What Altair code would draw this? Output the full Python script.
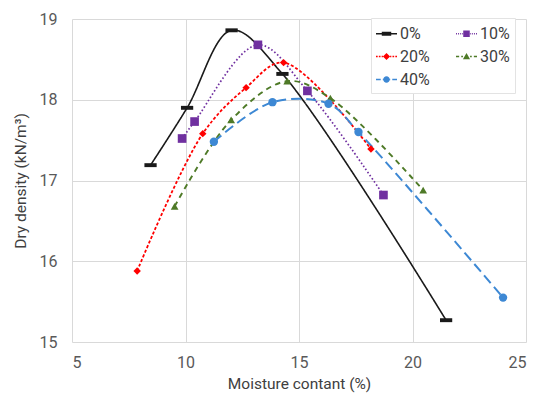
import altair as alt
import pandas as pd

series = ["0%", "10%", "20%", "30%", "40%"]
moisture = {
    "0%": [8.46, 10.07, 12.03, 14.27, 21.48],
    "10%": [9.85, 10.40, 13.19, 15.37, 18.72],
    "20%": [7.87, 10.76, 12.67, 14.32, 18.17],
    "30%": [9.52, 12.01, 14.48, 16.38, 20.47],
    "40%": [11.25, 13.83, 16.30, 17.62, 23.99],
}
density = {
    "0%": [17.19, 17.90, 18.86, 18.32, 15.27],
    "10%": [17.52, 17.73, 18.68, 18.11, 16.82],
    "20%": [15.88, 17.58, 18.15, 18.46, 17.39],
    "30%": [16.68, 17.75, 18.23, 18.02, 16.88],
    "40%": [17.48, 17.97, 17.95, 17.60, 15.55],
}
x_ticks = [5, 10, 15, 20, 25]
y_ticks = [15, 16, 17, 18, 19]

colors = ["#1a1a1a", "#7030A0", "#FF0000", "#4E7A27", "#3D88D4"]
dashes = [[1, 0], [1.6, 2.2], [3, 2], [5.5, 4.5], [10, 5]]
widths = [1.6, 2, 2, 2.2, 2.3]
marker_paths = {
    "0%": "M-1,-0.32H1V0.32H-1Z",
    "10%": "square",
    "20%": "diamond",
    "30%": "triangle-up",
    "40%": "circle",
}
marker_sizes = {"0%": 150, "10%": 75, "20%": 55, "30%": 60, "40%": 70}

rows = []
for s in series:
    for mx, dy in zip(moisture[s], density[s]):
        rows.append({"series": s, "moisture": mx, "density": dy})
df = pd.DataFrame(rows)


def rect(x0, x1, h):
    return f"M{x0:.3f},{-h:.3f}H{x1:.3f}V{h:.3f}H{x0:.3f}Z"


def line_part(on, off, inner, h):
    parts = []
    x = -1.0
    while x < -inner:
        x1 = min(x + on, -inner)
        parts.append(rect(x, x1, h))
        parts.append(rect(-x1, -x, h))
        x = x1 + off
    return "".join(parts)


def legend_path(kind):
    if kind == "0%":
        return rect(-1, 1, 0.08) + rect(-0.45, 0.45, 0.19)
    if kind == "10%":
        r = 0.31
        return line_part(0.09, 0.11, r + 0.02, 0.075) + rect(-r, r, r)
    if kind == "20%":
        r = 0.34
        return line_part(0.16, 0.11, r, 0.075) + f"M0,{-r}L{r},0L0,{r}L{-r},0Z"
    if kind == "30%":
        r = 0.34
        return line_part(0.3, 0.2, r, 0.075) + f"M0,{-r}L{r},{r*0.75:.3f}L{-r},{r*0.75:.3f}Z"
    r = 0.31
    return line_part(0.45, 0.2, r, 0.075) + f"M{-r},0A{r},{r} 0 1 1 {r},0A{r},{r} 0 1 1 {-r},0Z"


legend_shapes = [legend_path(s) for s in series]

x_enc = alt.X(
    "moisture:Q",
    scale=alt.Scale(domain=[5, 25], nice=False),
    axis=alt.Axis(values=x_ticks, title="Moisture contant (%)", labelPadding=12, titlePadding=6),
)
y_enc = alt.Y(
    "density:Q",
    scale=alt.Scale(domain=[15, 19], nice=False, zero=False),
    axis=alt.Axis(values=y_ticks, title="Dry density (kN/m³)", labelPadding=15, titlePadding=11),
)

# data-driven domains here (sorted "0%".."40%") so these hidden legends do not swallow the visible one
lines = alt.Chart(df).mark_line(interpolate="catmull-rom").encode(
    x=x_enc,
    y=y_enc,
    stroke=alt.Stroke("series:N", scale=alt.Scale(range=colors), legend=None),
    strokeDash=alt.StrokeDash("series:N", scale=alt.Scale(range=dashes), legend=None),
    strokeWidth=alt.StrokeWidth("series:O", scale=alt.Scale(range=widths), legend=None),
    detail="series:N",
)

point_layers = []
for s in series:
    point_layers.append(
        alt.Chart(df)
        .transform_filter(alt.datum.series == s)
        .mark_point(filled=True, opacity=1, strokeWidth=0, shape=marker_paths[s], size=marker_sizes[s])
        .encode(
            x=x_enc,
            y=y_enc,
            fill=alt.Fill("series:N", scale=alt.Scale(range=colors), legend=None),
        )
    )

# legend-only layer: draws no marks (empty after filter), legend comes from the explicit domain
legend_layer = (
    alt.Chart(df)
    .transform_filter(alt.datum.moisture < 0)
    .mark_point(filled=True, opacity=1)
    .encode(
        x=x_enc,
        y=y_enc,
        color=alt.Color(
            "series:N",
            scale=alt.Scale(domain=series, range=colors),
            legend=alt.Legend(
                title=None,
                orient="none",
                direction="horizontal",
                legendX=299,
                legendY=-1,
                columns=2,
                columnPadding=26,
                rowPadding=4,
                padding=5,
                symbolSize=441,
                symbolOpacity=1,
                symbolStrokeWidth=0,
                labelOffset=3,
                labelFontSize=16,
                labelColor="#404040",
                labelFont="Roboto",
                fillColor="white",
                strokeColor="#e3e3e3",
            ),
        ),
        shape=alt.Shape("series:N", scale=alt.Scale(domain=series, range=legend_shapes)),
    )
)

chart = (
    alt.layer(lines, *point_layers, legend_layer)
    .properties(width=454, height=323, padding={"left": 5, "top": 3, "right": 5, "bottom": 5})
    .configure_view(stroke=None)
    .configure_axis(
        grid=True,
        gridColor="#d9d9d9",
        gridWidth=1,
        domain=False,
        ticks=False,
        labelFont="Roboto",
        labelFontSize=16,
        labelColor="#595959",
        titleFont="Roboto",
        titleFontSize=15.5,
        titleFontWeight="normal",
        titleColor="#404040",
    )
)

chart.save("out.html", embed_options={"renderer": "svg", "actions": False})
